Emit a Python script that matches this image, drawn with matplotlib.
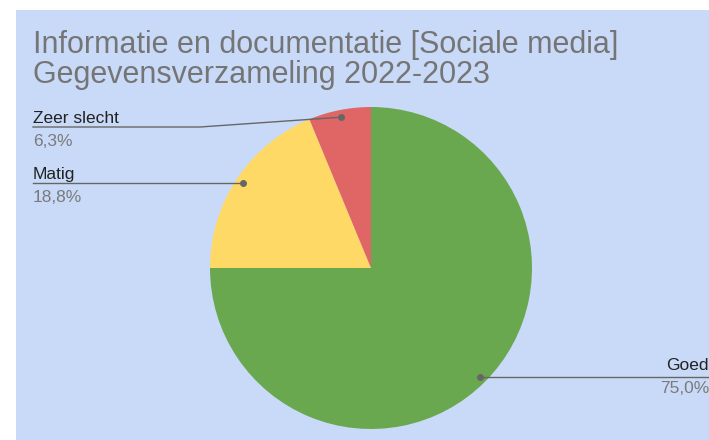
import matplotlib
matplotlib.use("Agg")
import matplotlib.pyplot as plt
import numpy as np
from matplotlib.lines import Line2D

# data
labels = ["Goed", "Matig", "Zeer slecht"]
counts = [12, 3, 1]
pct_labels = ["75,0%", "18,8%", "6,3%"]
colors = ["#6aa84f", "#ffd966", "#e06666"]

W, H = 709, 440
plt.rcParams["font.family"] = ["Liberation Sans", "DejaVu Sans"]

fig = plt.figure(figsize=(W / 100, H / 100), dpi=100)
fig.patch.set_facecolor("white")

# light blue chart area (white strip on top and left)
bg = fig.add_axes([16 / W, 0, 1 - 16 / W, 1 - 10 / H])
bg.set_facecolor("#c9daf8")
bg.set_xticks([])
bg.set_yticks([])
for s in bg.spines.values():
    s.set_visible(False)

# pie: centre (371, 268) px, radius 161 px
cx, cy, r = 371, 268, 161
ax = fig.add_axes([(cx - r) / W, (H - cy - r) / H, 2 * r / W, 2 * r / H])
wedges, _ = ax.pie(counts, colors=colors, startangle=90, counterclock=False,
                   wedgeprops=dict(linewidth=0))
ax.set_xlim(-1, 1)
ax.set_ylim(-1, 1)
ax.set_aspect("equal")
ax.axis("off")


def px(x, y):
    # figure pixel (top-left origin) -> figure fraction
    return x / W, 1 - y / H


def anchor(w):
    ang = np.deg2rad((w.theta1 + w.theta2) / 2)
    dx, dy = ax.transData.transform((0.955 * np.cos(ang), 0.955 * np.sin(ang)))
    return dx / W, dy / H


line_col = "#666666"
lab_kw = dict(fontsize=12.5, color="#222222", va="baseline")
pct_kw = dict(fontsize=12.5, color="#7a7a7a", va="baseline")

# Zeer slecht
a = anchor(wedges[2])
fig.add_artist(Line2D([px(33, 0)[0], px(200, 0)[0], a[0]],
                      [px(0, 127)[1], px(0, 127)[1], a[1]], color=line_col, lw=1))
fig.add_artist(Line2D([a[0]], [a[1]], marker="o", ms=4, color=line_col))
fig.text(*px(33, 123), labels[2], **lab_kw)
fig.text(*px(33, 146), pct_labels[2], **pct_kw)

# Matig
a = anchor(wedges[1])
fig.add_artist(Line2D([px(33, 0)[0], a[0]], [a[1], a[1]], color=line_col, lw=1))
fig.add_artist(Line2D([a[0]], [a[1]], marker="o", ms=4, color=line_col))
fig.text(*px(33, 179), labels[1], **lab_kw)
fig.text(*px(33, 202), pct_labels[1], **pct_kw)

# Goed
a = anchor(wedges[0])
fig.add_artist(Line2D([a[0], 1.0], [a[1], a[1]], color=line_col, lw=1))
fig.add_artist(Line2D([a[0]], [a[1]], marker="o", ms=4, color=line_col))
fig.text(*px(709, 370), labels[0], ha="right", **lab_kw)
fig.text(*px(709, 393), pct_labels[0], ha="right", **pct_kw)

# title
fig.text(*px(33, 53), "Informatie en documentatie [Sociale media]",
         fontsize=22, color="#757575", va="baseline")
fig.text(*px(33, 83), "Gegevensverzameling 2022-2023",
         fontsize=22, color="#757575", va="baseline")

fig.savefig("out.png", dpi=100)
